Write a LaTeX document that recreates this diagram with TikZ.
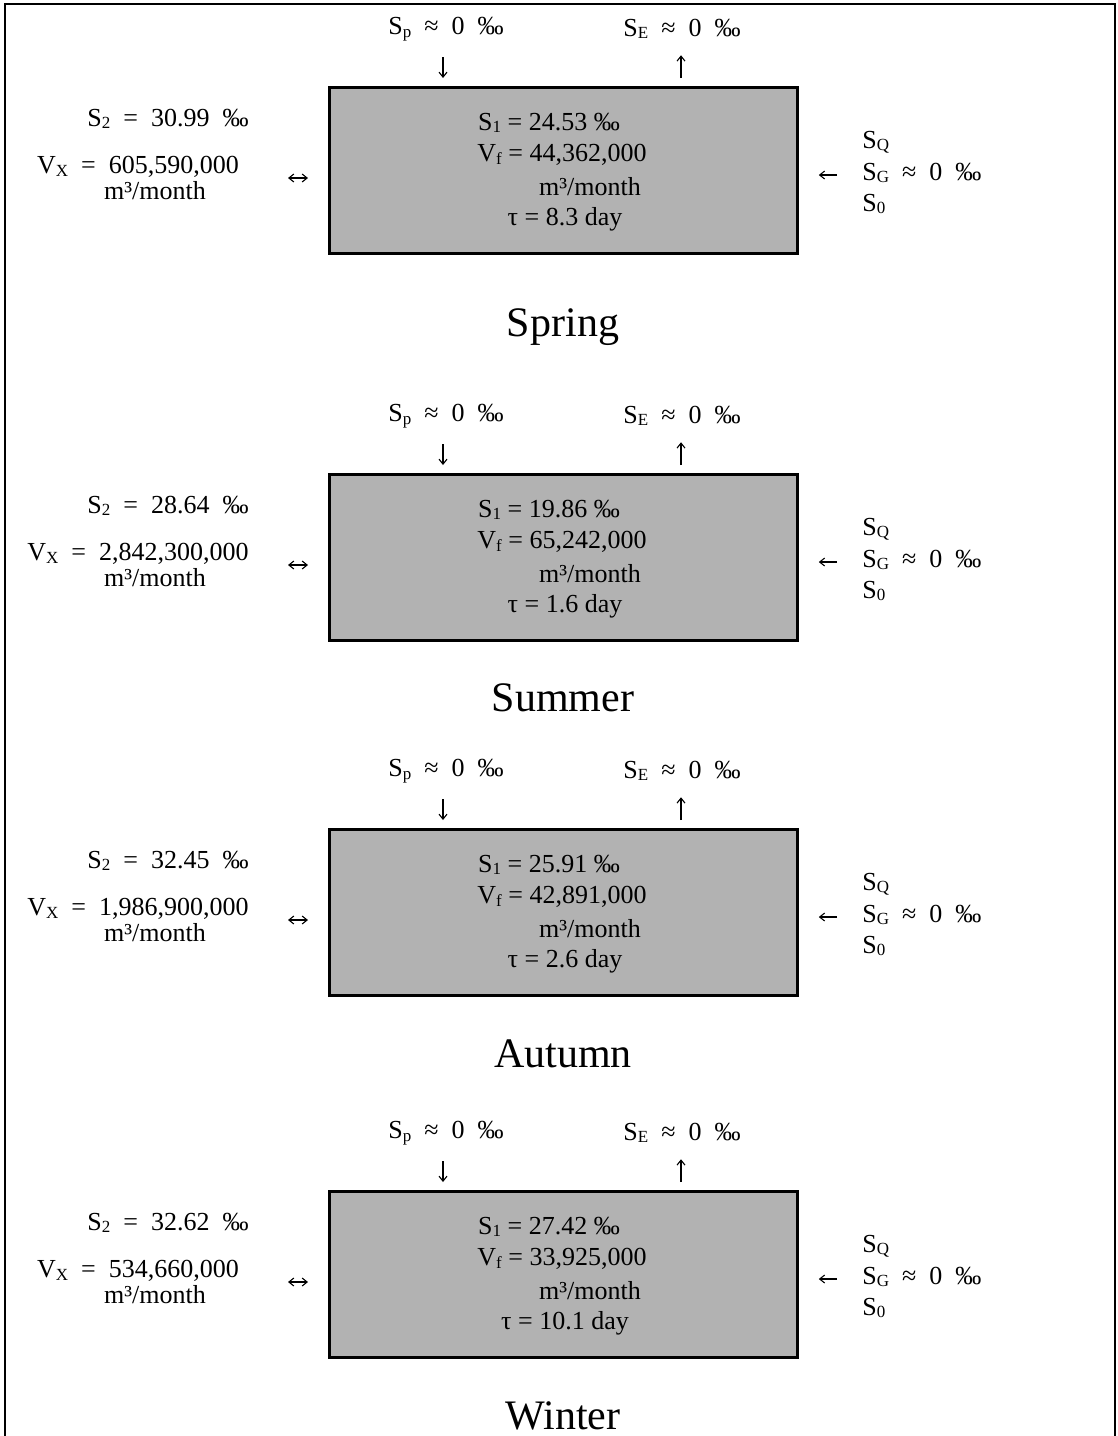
\documentclass[tikz,border=0pt]{standalone}
\usepackage{fontspec}
\setmainfont{Liberation Serif}
\usetikzlibrary{arrows.meta}
\newcommand\lsub[1]{\raisebox{-0.2ex}{\fontsize{8.5}{9}\selectfont #1}}
\tikzset{
  every node/.style={inner sep=0pt, font=\fontsize{13}{15}\selectfont},
  salbox/.style={draw=black, line width=1.4pt, fill=black!30, minimum width=234pt, minimum height=83pt, anchor=north west},
  flowarrow/.style={-{Straight Barb[length=2.5pt,width=4pt]}, line width=0.55pt},
  twoarrow/.style={{Straight Barb[length=2.5pt,width=4pt]}-{Straight Barb[length=2.5pt,width=4pt]}, line width=0.55pt},
  season/.style={font=\fontsize{21}{25}\selectfont},
  frameline/.style={line width=1.4pt},
}
% #1 prefix, #2 box top, #3 S2, #4 Vx, #5 S1, #6 Vf, #7 tau, #8 title, #9 title y
\newcommand\salpanel[9]{%
  \node[salbox] (#1box) at (328,#2) {};
  \node (#1Sp) at (446,{#2-57}) {S\lsub{p}\ \ ≈\ \ 0\ \ ‰};
  \node (#1SE) at (682,{#2-57}) {S\lsub{E}\ \ ≈\ \ 0\ \ ‰};
  \draw[flowarrow, shorten <=8pt, shorten >=4pt] (#1Sp.south -| 443,0) -- (#1box.north -| 443,0);
  \draw[flowarrow, shorten <=4pt, shorten >=8pt] (#1box.north -| 681,0) -- (#1SE.south -| 681,0);
  \node (#1S2) at (168,{#2+33}) {S\lsub{2}\ \ =\ \ #3\ \ ‰};
  \node (#1Vx) at (138,{#2+81}) {V\lsub{X}\ \ =\ \ #4};
  \node (#1Vu) at (155,{#2+105}) {m³/month};
  \coordinate (#1lc) at (288,{#2+92});
  \draw[twoarrow, shorten >=10pt] (#1lc) -- (#1box.west |- #1lc);
  \node (#1S1) at (549,{#2+37}) {S\lsub{1} = #5 ‰};
  \node (#1Vf) at (562,{#2+69}) {V\lsub{f} = #6};
  \node (#1Vfu) at (590,{#2+101}) {m³/month};
  \node (#1tau) at (565,{#2+133}) {τ = #7 day};
  \coordinate (#1rc) at (837,{#2+89});
  \draw[flowarrow, shorten >=10pt] (#1rc) -- (#1box.east |- #1rc);
  \node[anchor=west] (#1SQ) at (862,{#2+56}) {S\lsub{Q}};
  \node[anchor=west] (#1SG) at (862,{#2+87}) {S\lsub{G}\ \ ≈\ \ 0\ \ ‰};
  \node[anchor=west] (#1So) at (862,{#2+118}) {S\lsub{0}};
  \node[season] (#1title) at (563,#9) {#8};
}
\begin{document}
\begin{tikzpicture}[x=0.5pt,y=-0.5pt]
  \useasboundingbox (0,0) rectangle (1118,1436);
  \draw[frameline] (5,1440) -- (5,4) -- (1115,4) -- (1115,1440);
  \salpanel{sp}{86}{30.99}{605,590,000}{24.53}{44,362,000}{8.3}{Spring}{327}
  \salpanel{su}{473}{28.64}{2,842,300,000}{19.86}{65,242,000}{1.6}{Summer}{698}
  \salpanel{au}{828}{32.45}{1,986,900,000}{25.91}{42,891,000}{2.6}{Autumn}{1054}
  \salpanel{wi}{1190}{32.62}{534,660,000}{27.42}{33,925,000}{10.1}{Winter}{1416}
\end{tikzpicture}
\end{document}
